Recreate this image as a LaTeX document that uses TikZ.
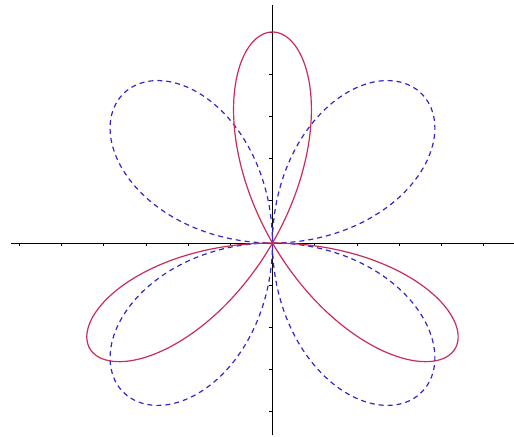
\documentclass[tikz,border=0pt]{standalone}
\begin{document}
\begin{tikzpicture}[x=42.2pt,y=42.2pt,
  axisline/.style={black, line width=0.8pt},
  tickmark/.style={black, line width=0.6pt},
  rosethree/.style={color={rgb,255:red,200;green,45;blue,90}, line width=1.2pt},
  rosefour/.style={color={rgb,255:red,50;green,40;blue,200}, line width=1.2pt, dash pattern=on 5pt off 4pt}]
\useasboundingbox (-6.457,-4.597) rectangle (5.723,5.758);
\fill[white] (-6.457,-4.597) rectangle (5.723,5.758);
\coordinate (xl) at (-6.2,0);
\coordinate (xr) at (5.723,0);
\coordinate (yb) at (0,-4.55);
\coordinate (yt) at (0,5.64);
\draw[axisline] (xl) -- (xr);
\draw[axisline] (yb) -- (yt);
\foreach \i in {-6,-5,-4,-3,-2,-1,1,2,3,4,5} \draw[tickmark] (\i,0) -- (\i,-0.075);
\foreach \j in {-4,-3,-2,-1,1,2,3,4,5} \draw[tickmark] (0,\j) -- (-0.075,\j);
\draw[rosefour] plot[domain=0:360, samples=400, smooth] (\x:{5*sin(2*\x)}) -- cycle;
\draw[rosethree] plot[domain=0:180, samples=300, smooth] (\x:{-5*sin(3*\x)}) -- cycle;
\end{tikzpicture}
\end{document}
